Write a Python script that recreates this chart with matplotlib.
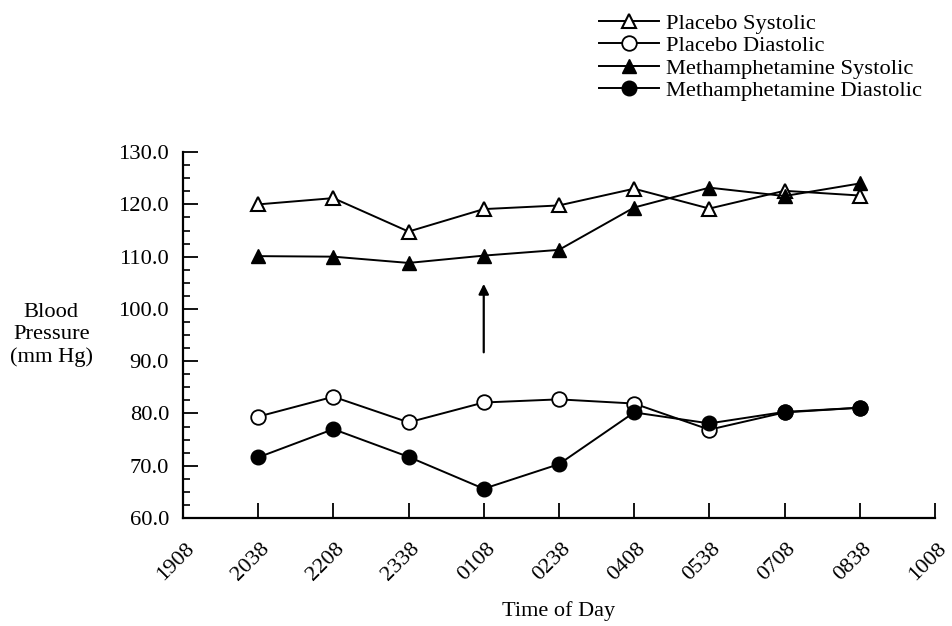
import matplotlib
matplotlib.use("Agg")
import matplotlib.pyplot as plt
from matplotlib.ticker import MultipleLocator, FormatStrFormatter
from matplotlib.transforms import ScaledTranslation

plt.rcParams['font.family'] = ['Liberation Serif', 'DejaVu Serif']

time_labels = ["1908", "2038", "2208", "2338", "0108", "0238", "0408", "0538", "0708", "0838", "1008"]
data_times = ["2038", "2208", "2338", "0108", "0238", "0408", "0538", "0708", "0838"]

placebo_systolic = [120.0, 121.2, 114.8, 119.1, 119.8, 123.0, 119.2, 122.6, 121.7]
placebo_diastolic = [79.4, 83.2, 78.3, 82.1, 82.7, 81.9, 76.9, 80.2, 81.1]
meth_systolic = [110.1, 110.0, 108.8, 110.2, 111.3, 119.4, 123.2, 121.6, 124.0]
meth_diastolic = [71.6, 77.0, 71.7, 65.6, 70.3, 80.2, 78.1, 80.3, 81.1]

series_labels = ["Placebo Systolic", "Placebo Diastolic",
                 "Methamphetamine Systolic", "Methamphetamine Diastolic"]

arrow_time = "0108"
arrow_tip = 104.8
arrow_base = 91.7

FS = 16.2

fig = plt.figure(figsize=(9.53, 6.26), dpi=100)
ax = fig.add_axes([0.192, 0.1725, 0.789, 0.5845])

pos = {t: i for i, t in enumerate(time_labels)}
x = [pos[t] for t in data_times]

lw = 1.4
ms = 10.5
l1, = ax.plot(x, placebo_systolic, color='black', lw=lw, marker='^', ms=ms,
              mfc='white', mec='black', mew=1.5, label=series_labels[0], zorder=3)
l2, = ax.plot(x, placebo_diastolic, color='black', lw=lw, marker='o', ms=ms,
              mfc='white', mec='black', mew=1.3, label=series_labels[1], zorder=3)
l3, = ax.plot(x, meth_systolic, color='black', lw=lw, marker='^', ms=ms,
              mfc='black', mec='black', label=series_labels[2], zorder=4)
l4, = ax.plot(x, meth_diastolic, color='black', lw=lw, marker='o', ms=ms,
              mfc='black', mec='black', label=series_labels[3], zorder=4)

ax.annotate('', xy=(pos[arrow_time], arrow_tip), xytext=(pos[arrow_time], arrow_base),
            arrowprops=dict(arrowstyle='-|>', lw=1.6, color='black', mutation_scale=15,
                            shrinkA=0, shrinkB=0))

ax.set_xlim(0, len(time_labels) - 1)
ax.set_ylim(60, 130)
ax.set_xticks(range(len(time_labels)))
ax.set_xticklabels(time_labels, rotation=45, ha='right', va='top', rotation_mode='anchor')
ax.yaxis.set_major_locator(MultipleLocator(10))
ax.yaxis.set_minor_locator(MultipleLocator(2.5))
ax.yaxis.set_major_formatter(FormatStrFormatter('%.1f'))

ax.tick_params(axis='both', which='major', direction='in', length=11, width=1.3,
               labelsize=FS, colors='black')
ax.tick_params(axis='x', pad=15)
ax.tick_params(axis='y', pad=10)
ax.tick_params(axis='y', which='minor', direction='in', length=5, width=1.2)
for lab in ax.get_xticklabels():
    lab.set_transform(lab.get_transform() + ScaledTranslation(2 / 100, 0, fig.dpi_scale_trans))
ax.spines['top'].set_visible(False)
ax.spines['right'].set_visible(False)
ax.spines['left'].set_linewidth(1.6)
ax.spines['bottom'].set_linewidth(1.6)

ax.set_xlabel("Time of Day", fontsize=16, labelpad=12)
ax.set_ylabel("Blood\nPressure\n(mm Hg)", fontsize=FS, rotation=0, ha='center',
              va='center', linespacing=1.23)
ax.yaxis.set_label_coords(-0.175, 0.5)

fig.legend(handles=[l1, l2, l3, l4], loc='upper left', bbox_to_anchor=(0.619, 0.994),
           frameon=False, fontsize=FS, handlelength=2.65, handletextpad=0.35,
           labelspacing=0.08, borderaxespad=0, markerscale=1.0)

fig.savefig("out.png", dpi=100)
